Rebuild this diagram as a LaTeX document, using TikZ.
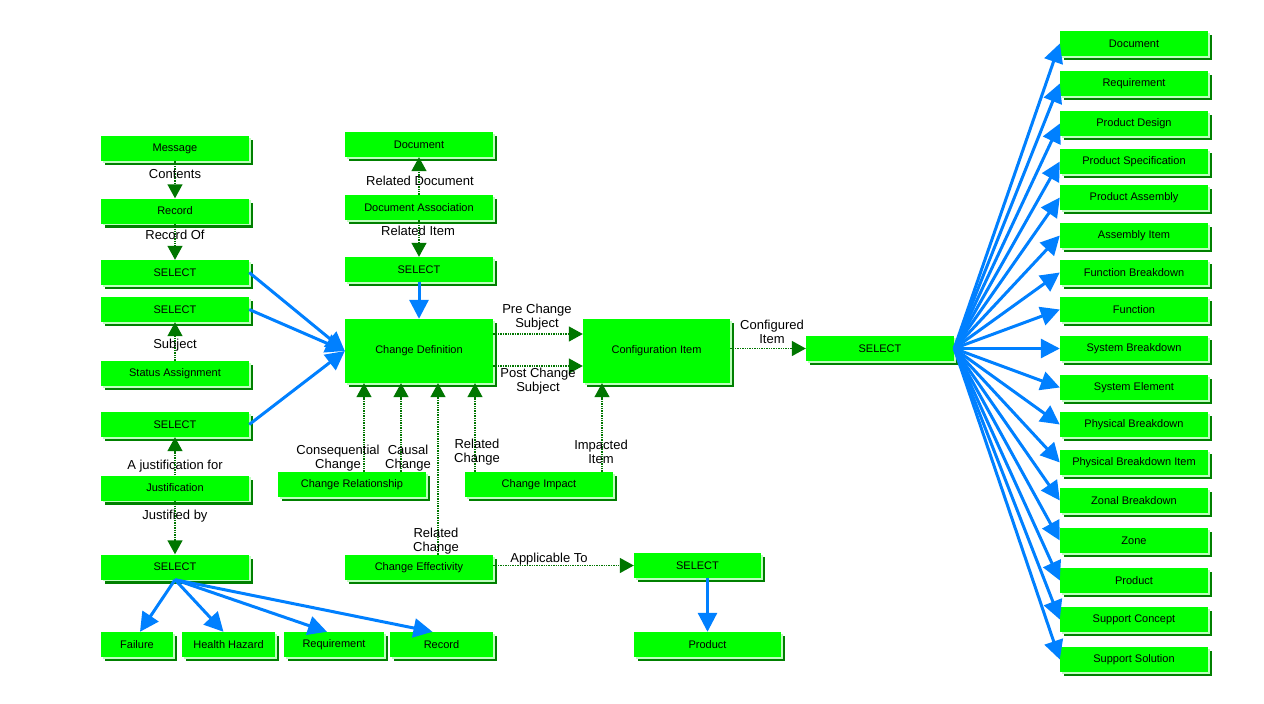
\documentclass[tikz,border=0pt]{standalone}
\usepackage{fontspec}
\setmainfont{Liberation Sans}
\usetikzlibrary{arrows.meta, shadows}
\definecolor{boxgreen}{RGB}{0,255,0}
\definecolor{shadegreen}{RGB}{0,128,0}
\definecolor{palegreen}{RGB}{190,255,190}
\definecolor{reldark}{RGB}{0,118,0}
\definecolor{linkblue}{RGB}{0,128,255}

\begin{document}
\begin{tikzpicture}[x=1pt, y=-1pt,
  entity/.style={fill=boxgreen, minimum width=148pt, minimum height=25pt, inner sep=0pt,
    font=\fontsize{11}{13}\selectfont,
    general shadow={fill=shadegreen, shadow xshift=4pt, shadow yshift=-4pt},
    general shadow={fill=palegreen, shadow xshift=1.5pt, shadow yshift=-1.5pt}},
  rel/.style={draw=reldark, densely dotted, line width=1.4pt, -{Triangle[length=14pt, width=15pt, fill=reldark]}},
  pick/.style={draw=linkblue, line width=3pt, -{Triangle[length=19pt, width=19pt, fill=linkblue]}},
  lbl/.style={font=\fontsize{13}{14}\selectfont, align=center, inner sep=0pt}]

  \fill[white] (0,0) rectangle (1264,704);
  \useasboundingbox (0,0) rectangle (1264,704);

  % left column
  \node[entity] (msg) at (175,148.5) {Message};
  \node[entity] (rec) at (175,211) {Record};
  \node[entity] (selA) at (175,272.5) {SELECT};
  \node[entity] (selB) at (175,309.5) {SELECT};
  \node[entity] (status) at (175,373.5) {Status Assignment};
  \node[entity] (selC) at (175,424.5) {SELECT};
  \node[entity] (just) at (175,488) {Justification};
  \node[entity] (selD) at (175,567) {SELECT};
  \node[entity, minimum width=72pt] (fail) at (137,644.5) {Failure};
  \node[entity, minimum width=93pt] (hazard) at (228.5,644.5) {Health Hazard};
  \node[entity, minimum width=100pt] (reqA) at (334,644.5) {Requirement};
  \node[entity, minimum width=103pt] (recB) at (441.5,644.5) {Record};

  % middle
  \node[entity] (docA) at (419,144.5) {Document};
  \node[entity] (docassoc) at (419,207.5) {Document Association};
  \node[entity] (selM) at (419,269.5) {SELECT};
  \node[entity, minimum height=64pt] (chdef) at (419,351) {Change Definition};
  \node[entity, minimum width=147pt, minimum height=64pt] (cfg) at (656.5,351) {Configuration Item};
  \node[entity] (selR) at (880,348.5) {SELECT};
  \node[entity] (chrel) at (352,484.5) {Change Relationship};
  \node[entity] (chimp) at (539,484.5) {Change Impact};
  \node[entity] (cheff) at (419,567.5) {Change Effectivity};
  \node[entity, minimum width=127pt] (selE) at (697.5,565.5) {SELECT};
  \node[entity, minimum width=147pt] (prodA) at (707.5,644.5) {Product};

  % right column
  \node[entity] (rdoc) at (1134,43.5) {Document};
  \node[entity] (rreq) at (1134,83.5) {Requirement};
  \node[entity] (rdesign) at (1134,123.5) {Product Design};
  \node[entity] (rspec) at (1134,161.5) {Product Specification};
  \node[entity] (rassy) at (1134,197.5) {Product Assembly};
  \node[entity] (rassyitem) at (1134,235.5) {Assembly Item};
  \node[entity] (rfbd) at (1134,272.5) {Function Breakdown};
  \node[entity] (rfunc) at (1134,309.5) {Function};
  \node[entity] (rsbd) at (1134,348.5) {System Breakdown};
  \node[entity] (rsel) at (1134,387.5) {System Element};
  \node[entity] (rpbd) at (1134,424.5) {Physical Breakdown};
  \node[entity] (rpbditem) at (1134,462.5) {Physical Breakdown Item};
  \node[entity] (rzbd) at (1134,500.5) {Zonal Breakdown};
  \node[entity] (rzone) at (1134,540.5) {Zone};
  \node[entity] (rprod) at (1134,580.5) {Product};
  \node[entity] (rsupcon) at (1134,619.5) {Support Concept};
  \node[entity] (rsupsol) at (1134,659.5) {Support Solution};

  % relationships
  \draw[rel] (msg) -- (rec);
  \draw[rel] (rec) -- (selA);
  \draw[rel] (status) -- (selB);
  \draw[rel] (just) -- (selC);
  \draw[rel] (just) -- (selD);
  \draw[rel] (docassoc) -- (docA);
  \draw[rel] (docassoc) -- (selM);
  \draw[rel] ([xshift=12pt]chrel.north) -- ([xshift=12pt]chrel.north |- chdef.south);
  \draw[rel] ([xshift=49pt]chrel.north) -- ([xshift=49pt]chrel.north |- chdef.south);
  \draw[rel] ([xshift=19pt]cheff.north) -- ([xshift=19pt]cheff.north |- chdef.south);
  \draw[rel] ([xshift=-64pt]chimp.north) -- ([xshift=-64pt]chimp.north |- chdef.south);
  \draw[rel] ([xshift=63pt]chimp.north) -- ([xshift=63pt]chimp.north |- cfg.south);
  \draw[rel] ([yshift=17pt]chdef.east) -- ([yshift=17pt]chdef.east -| cfg.west);
  \draw[rel] ([yshift=-15pt]chdef.east) -- ([yshift=-15pt]chdef.east -| cfg.west);
  \draw[rel] (cfg.east |- selR.west) -- (selR.west);
  \draw[rel] (cheff.east |- selE.west) -- (selE.west);

  % selections
  \draw[pick] (selM) -- (chdef);
  \draw[pick] (selA.east) -- (chdef.west);
  \draw[pick] (selB.east) -- (chdef.west);
  \draw[pick] (selC.east) -- (chdef.west);
  \draw[pick] (selD.south) -- ([xshift=3pt]fail.north);
  \draw[pick] (selD.south) -- ([xshift=-5pt]hazard.north);
  \draw[pick] (selD.south) -- ([xshift=-7pt]reqA.north);
  \draw[pick] (selD.south) -- ([xshift=-9pt]recB.north);
  \draw[pick] (selE.south -| prodA.north) -- (prodA.north);
  \draw[pick] (selR.east) -- (rdoc.west);
  \draw[pick] (selR.east) -- (rreq.west);
  \draw[pick] (selR.east) -- (rdesign.west);
  \draw[pick] (selR.east) -- (rspec.west);
  \draw[pick] (selR.east) -- (rassy.west);
  \draw[pick] (selR.east) -- (rassyitem.west);
  \draw[pick] (selR.east) -- (rfbd.west);
  \draw[pick] (selR.east) -- (rfunc.west);
  \draw[pick] (selR.east) -- (rsbd.west);
  \draw[pick] (selR.east) -- (rsel.west);
  \draw[pick] (selR.east) -- (rpbd.west);
  \draw[pick] (selR.east) -- (rpbditem.west);
  \draw[pick] (selR.east) -- (rzbd.west);
  \draw[pick] (selR.east) -- (rzone.west);
  \draw[pick] (selR.east) -- (rprod.west);
  \draw[pick] (selR.east) -- (rsupcon.west);
  \draw[pick] (selR.east) -- (rsupsol.west);

  % role labels
  \node[lbl] (lcontents) at (175,174) {Contents};
  \node[lbl] (lrecof) at (175,235) {Record Of};
  \node[lbl] (lsubject) at (175,345) {Subject};
  \node[lbl] (ljustfor) at (175,466) {A justification for};
  \node[lbl] (ljustby) at (175,516) {Justified by};
  \node[lbl] (lreldoc) at (420,181) {Related Document};
  \node[lbl] (lrelitem) at (418,231) {Related Item};
  \node[lbl] (lpre) at (537,317.5) {Pre Change\\Subject};
  \node[lbl] (lpost) at (538,381.5) {Post Change\\Subject};
  \node[lbl] (lcfgitem) at (772,332) {Configured\\Item};
  \node[lbl] (lconseq) at (338,458.5) {Consequential\\Change};
  \node[lbl] (lcausal) at (408,458.5) {Causal\\Change};
  \node[lbl] (lrelchA) at (477,452) {Related\\Change};
  \node[lbl] (limpact) at (601,452) {Impacted\\Item};
  \node[lbl] (lrelchB) at (436,541) {Related\\Change};
  \node[lbl] (lapplic) at (549,559) {Applicable To};
\end{tikzpicture}
\end{document}
